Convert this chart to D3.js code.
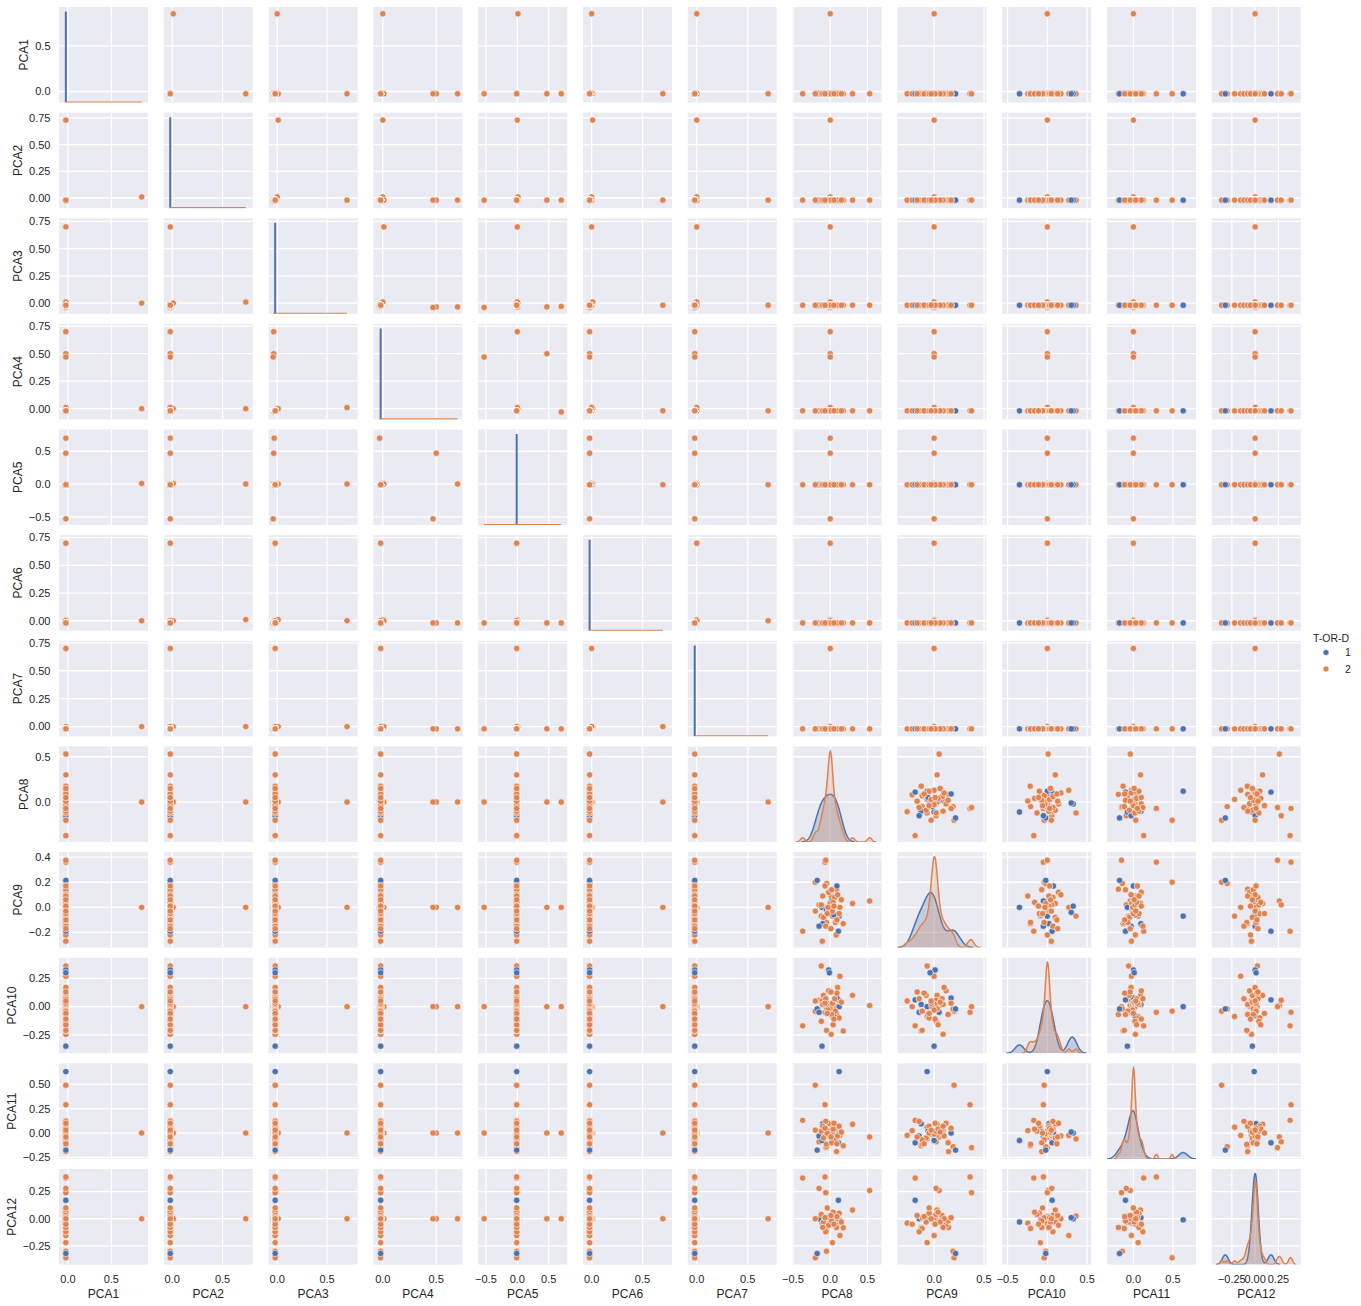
<!DOCTYPE html>
<html><head><meta charset="utf-8">
<script src="https://cdn.jsdelivr.net/npm/d3@7"></script>
<style>
body{margin:0;background:#fff}
text{font-family:"Liberation Sans",Arial,sans-serif;fill:#262626}
</style>
</head><body>
<svg id="chart" width="1361" height="1306"></svg>
<script>
// ---------------- DATA ----------------
const variables = ["PCA1","PCA2","PCA3","PCA4","PCA5","PCA6","PCA7","PCA8","PCA9","PCA10","PCA11","PCA12"];
const hueLevels = ["1","2"];
// point order: 9 special outliers, 17 orange outliers, 12 blue, 26 orange core
const hue = ["2","2","2","2","2","2","2","2","2",
 "2","2","2","2","2","2","2","2","2","2","2","2","2","2","2","2","2",
 "1","1","1","1","1","1","1","1","1","1","1","1",
 "2","2","2","2","2","2","2","2","2","2","2","2","2","2","2","2","2","2","2","2","2","2","2","2","2","2"];
const PCA1 = [0.85,-0.025,-0.025,-0.025,-0.025,-0.025,-0.025,-0.025,-0.025,
 -0.025,-0.025,-0.025,-0.025,-0.025,-0.025,-0.025,-0.025,-0.025,-0.025,-0.025,-0.025,-0.025,-0.025,-0.025,-0.025,-0.025,
 -0.025,-0.025,-0.025,-0.025,-0.025,-0.025,-0.025,-0.025,-0.025,-0.025,-0.025,-0.025,
 -0.025,-0.025,-0.025,-0.025,-0.025,-0.025,-0.025,-0.025,-0.025,-0.025,-0.025,-0.025,-0.025,-0.025,-0.025,-0.025,-0.025,-0.025,-0.025,-0.025,-0.025,-0.025,-0.025,-0.025,-0.025,-0.025];
const PCA2 = [0.01,0.73,-0.02,-0.02,-0.02,-0.02,-0.02,-0.02,-0.02,
 -0.02,-0.02,-0.02,-0.02,-0.02,-0.02,-0.02,-0.02,-0.02,-0.02,-0.02,-0.02,-0.02,-0.02,-0.02,-0.02,-0.02,
 -0.02,-0.02,-0.02,-0.02,-0.02,-0.02,-0.02,-0.02,-0.02,-0.02,-0.02,-0.02,
 -0.02,-0.02,-0.02,-0.02,-0.02,-0.02,-0.02,-0.02,-0.02,-0.02,-0.02,-0.02,-0.02,-0.02,-0.02,-0.02,-0.02,-0.02,-0.02,-0.02,-0.02,-0.02,-0.02,-0.02,-0.02,-0.02];
const PCA3 = [0.00,0.01,0.70,-0.035,-0.035,-0.04,-0.03,-0.02,-0.02,
 -0.02,-0.02,-0.02,-0.02,-0.02,-0.02,-0.02,-0.02,-0.02,-0.02,-0.02,-0.02,-0.02,-0.02,-0.02,-0.02,-0.02,
 -0.02,-0.02,-0.02,-0.02,-0.02,-0.02,-0.02,-0.02,-0.02,-0.02,-0.02,-0.02,
 -0.02,-0.02,-0.02,-0.02,-0.02,-0.02,-0.02,-0.02,-0.02,-0.02,-0.02,-0.02,-0.02,-0.02,-0.02,-0.02,-0.02,-0.02,-0.02,-0.02,-0.02,-0.02,-0.02,-0.02,-0.02,-0.02];
const PCA4 = [0.00,0.00,0.01,0.70,0.50,0.47,-0.03,-0.02,-0.02,
 -0.02,-0.02,-0.02,-0.02,-0.02,-0.02,-0.02,-0.02,-0.02,-0.02,-0.02,-0.02,-0.02,-0.02,-0.02,-0.02,-0.02,
 -0.02,-0.02,-0.02,-0.02,-0.02,-0.02,-0.02,-0.02,-0.02,-0.02,-0.02,-0.02,
 -0.02,-0.02,-0.02,-0.02,-0.02,-0.02,-0.02,-0.02,-0.02,-0.02,-0.02,-0.02,-0.02,-0.02,-0.02,-0.02,-0.02,-0.02,-0.02,-0.02,-0.02,-0.02,-0.02,-0.02,-0.02,-0.02];
const PCA5 = [0.01,0.00,0.00,0.00,0.47,-0.53,0.70,-0.01,-0.01,
 -0.01,-0.01,-0.01,-0.01,-0.01,-0.01,-0.01,-0.01,-0.01,-0.01,-0.01,-0.01,-0.01,-0.01,-0.01,-0.01,-0.01,
 -0.01,-0.01,-0.01,-0.01,-0.01,-0.01,-0.01,-0.01,-0.01,-0.01,-0.01,-0.01,
 -0.01,-0.01,-0.01,-0.01,-0.01,-0.01,-0.01,-0.01,-0.01,-0.01,-0.01,-0.01,-0.01,-0.01,-0.01,-0.01,-0.01,-0.01,-0.01,-0.01,-0.01,-0.01,-0.01,-0.01,-0.01,-0.01];
const PCA6 = [0.00,0.01,0.00,-0.02,-0.02,-0.02,-0.02,0.70,0.00,
 -0.02,-0.02,-0.02,-0.02,-0.02,-0.02,-0.02,-0.02,-0.02,-0.02,-0.02,-0.02,-0.02,-0.02,-0.02,-0.02,-0.02,
 -0.02,-0.02,-0.02,-0.02,-0.02,-0.02,-0.02,-0.02,-0.02,-0.02,-0.02,-0.02,
 -0.02,-0.02,-0.02,-0.02,-0.02,-0.02,-0.02,-0.02,-0.02,-0.02,-0.02,-0.02,-0.02,-0.02,-0.02,-0.02,-0.02,-0.02,-0.02,-0.02,-0.02,-0.02,-0.02,-0.02,-0.02,-0.02];
const PCA7 = [0.00,0.00,0.00,-0.02,-0.02,-0.02,-0.02,0.00,0.70,
 -0.02,-0.02,-0.02,-0.02,-0.02,-0.02,-0.02,-0.02,-0.02,-0.02,-0.02,-0.02,-0.02,-0.02,-0.02,-0.02,-0.02,
 -0.02,-0.02,-0.02,-0.02,-0.02,-0.02,-0.02,-0.02,-0.02,-0.02,-0.02,-0.02,
 -0.02,-0.02,-0.02,-0.02,-0.02,-0.02,-0.02,-0.02,-0.02,-0.02,-0.02,-0.02,-0.02,-0.02,-0.02,-0.02,-0.02,-0.02,-0.02,-0.02,-0.02,-0.02,-0.02,-0.02,-0.02,-0.02];
const PCA8 = [0,0,0,0,0,0,0,0,0,
 -0.37,-0.07,0.53,0.30,-0.20,-0.12,-0.06,-0.15,0.03,-0.05,0.13,0.013,0.175,-0.05,-0.107,0.08,0.085,
 0.12,0.11,-0.175,-0.02,-0.01,-0.11,0.09,-0.10,-0.15,0.02,-0.05,0.05,
 0.00,0.01,-0.01,0.02,-0.02,0.00,0.03,-0.03,0.06,-0.09,0.12,-0.02,0.07,-0.12,0.02,0.10,-0.06,0.04,-0.10,0.09,-0.04,0.15,0.01,-0.07,0.05,-0.20];
const PCA9 = [0,0,0,0,0,0,0,0,0,
 -0.19,0.36,0.05,0.03,0.20,-0.07,0.375,0.02,-0.07,0.19,0.00,0.09,-0.13,-0.12,-0.27,-0.22,0.145,
 -0.07,-0.19,0.215,0.01,-0.04,0.00,0.17,-0.13,-0.15,0.05,-0.02,-0.06,
 0.00,-0.01,0.02,0.01,-0.02,0.03,-0.03,0.00,0.08,-0.08,-0.05,0.12,-0.12,0.02,0.14,0.10,-0.15,0.04,0.09,-0.10,-0.05,0.06,-0.17,0.17,0.01,-0.03];
const PCA10 = [0,0,0,0,0,0,0,0,0,
 -0.17,-0.05,0.01,0.10,-0.04,0.36,0.00,0.056,-0.087,-0.02,0.27,-0.245,-0.215,-0.21,0.05,0.00,-0.07,
 0.00,0.06,-0.02,0.325,0.30,-0.35,0.076,0.02,-0.05,-0.05,0.03,-0.08,
 0.00,0.01,-0.01,0.02,0.00,-0.02,0.03,-0.03,0.07,0.10,-0.10,0.14,-0.04,-0.13,-0.07,0.17,0.07,-0.16,0.02,0.12,-0.06,0.04,0.13,0.03,-0.11,0.05];
const PCA11 = [0,0,0,0,0,0,0,0,0,
 0.13,0.29,-0.04,0.09,0.49,-0.06,-0.15,-0.09,0.06,-0.14,-0.025,0.025,-0.13,-0.115,-0.025,0.025,-0.19,
 0.63,-0.10,-0.175,0.00,0.01,-0.076,0.00,0.095,-0.03,0.00,-0.01,0.02,
 0.00,0.00,0.01,-0.01,0.02,-0.02,0.01,-0.01,0.04,-0.05,0.07,0.10,-0.07,0.02,-0.10,-0.03,0.12,0.04,0.07,-0.11,0.00,0.01,-0.04,0.05,0.10,0.03];
const PCA12 = [0,0,0,0,0,0,0,0,0,
 0.375,0.385,0.26,0.08,-0.36,0.025,0.24,0.28,-0.22,-0.30,-0.155,-0.04,-0.083,-0.09,-0.04,-0.05,-0.08,
 -0.01,0.17,-0.32,0.00,0.01,-0.03,0.01,0.01,0.00,0.00,0.01,-0.01,
 0.00,-0.01,0.00,0.01,0.02,-0.02,0.00,0.01,0.03,-0.03,0.05,-0.06,0.01,0.04,-0.02,0.00,-0.12,0.06,-0.08,0.02,0.10,-0.03,0.03,0.01,-0.05,0.00];
const columns = [PCA1,PCA2,PCA3,PCA4,PCA5,PCA6,PCA7,PCA8,PCA9,PCA10,PCA11,PCA12];

// axis limits and ticks
const xDomain = [[-0.104,0.923],[-0.084,0.80],[-0.086,0.806],[-0.088,0.745],[-0.624,0.795],[-0.085,0.79],
                 [-0.088,0.785],[-0.505,0.69],[-0.368,0.524],[-0.567,0.551],[-0.334,0.792],[-0.465,0.49]];
const yDomain = [[-0.12,0.924],[-0.095,0.80],[-0.098,0.779],[-0.098,0.771],[-0.625,0.831],[-0.09,0.772],
                 [-0.087,0.768],[-0.44,0.613],[-0.321,0.44],[-0.413,0.433],[-0.265,0.714],[-0.422,0.458]];
const xTicks = [[0,0.5],[0,0.5],[0,0.5],[0,0.5],[-0.5,0,0.5],[0,0.5],[0,0.5],[-0.5,0,0.5],[0,0.5],[-0.5,0,0.5],[0,0.5],[-0.25,0,0.25]];
const xTickLabels = [["0.0","0.5"],["0.0","0.5"],["0.0","0.5"],["0.0","0.5"],["\u22120.5","0.0","0.5"],["0.0","0.5"],["0.0","0.5"],
                     ["\u22120.5","0.0","0.5"],["0.0","0.5"],["\u22120.5","0.0","0.5"],["0.0","0.5"],["\u22120.25","0.00","0.25"]];
const yTicks = [[0,0.5],[0,0.25,0.5,0.75],[0,0.25,0.5,0.75],[0,0.25,0.5,0.75],[-0.5,0,0.5],[0,0.25,0.5,0.75],[0,0.25,0.5,0.75],
                [0,0.5],[-0.2,0,0.2,0.4],[-0.25,0,0.25],[-0.25,0,0.25,0.5],[-0.25,0,0.25]];
const yTickLabels = [["0.0","0.5"],["0.00","0.25","0.50","0.75"],["0.00","0.25","0.50","0.75"],["0.00","0.25","0.50","0.75"],
                     ["\u22120.5","0.0","0.5"],["0.00","0.25","0.50","0.75"],["0.00","0.25","0.50","0.75"],["0.0","0.5"],
                     ["\u22120.2","0.0","0.2","0.4"],["\u22120.25","0.00","0.25"],["\u22120.25","0.00","0.25","0.50"],["\u22120.25","0.00","0.25"]];
// KDE kernel bandwidths per variable (hue 1, hue 2)
const bandwidth1 = [0.01,0.01,0.01,0.01,0.01,0.01,0.01,0.07,0.06,0.055,0.055,0.032];
const bandwidth2 = [0.05,0.05,0.05,0.05,0.05,0.05,0.05,0.03,0.03,0.025,0.018,0.02];
const legendTitle = "T-OR-D";

// ---------------- LAYOUT / STYLE ----------------
const colors = {"1":"#4C72B0","2":"#DD8452"};
const left0 = 59, colPitch = 104.8, W = 89;
const top0 = 7, rowPitch = 105.64, H = 95.5;
const n = variables.length;

const svg = d3.select("#chart");
const defs = svg.append("defs");

function kde(values, bw, lo, hi, m) {
  return d3.range(m).map(i => {
    const x = lo + (hi - lo) * i / (m - 1);
    const d = d3.mean(values, v => Math.exp(-0.5 * ((x - v) / bw) ** 2)) / (bw * Math.sqrt(2 * Math.PI));
    return [x, d];
  });
}

for (let r = 0; r < n; r++) {
  for (let c = 0; c < n; c++) {
    const x0 = left0 + c * colPitch, y0 = top0 + r * rowPitch;
    const xs = d3.scaleLinear().domain(xDomain[c]).range([x0, x0 + W]);
    const ys = d3.scaleLinear().domain(yDomain[r]).range([y0 + H, y0]);
    const g = svg.append("g");
    const id = `clip-${r}-${c}`;
    defs.append("clipPath").attr("id", id).append("rect")
      .attr("x", x0).attr("y", y0).attr("width", W).attr("height", H);
    g.append("rect").attr("x", x0).attr("y", y0).attr("width", W).attr("height", H).attr("fill", "#EAEAF2");
    const grid = g.append("g").attr("clip-path", `url(#${id})`);
    grid.selectAll("line.vx").data(xTicks[c]).join("line")
      .attr("x1", d => xs(d)).attr("x2", d => xs(d)).attr("y1", y0).attr("y2", y0 + H)
      .attr("stroke", "#fff").attr("stroke-width", 1.3);
    grid.selectAll("line.hy").data(yTicks[r]).join("line")
      .attr("y1", d => ys(d)).attr("y2", d => ys(d)).attr("x1", x0).attr("x2", x0 + W)
      .attr("stroke", "#fff").attr("stroke-width", 1.3);
    const content = g.append("g").attr("clip-path", `url(#${id})`);

    if (r === c) {
      const groups = hueLevels.map(h => columns[c].filter((v, i) => hue[i] === h));
      const bws = [bandwidth1[c], bandwidth2[c]];
      const degenerate = groups.map(vals => d3.deviation(vals) < 1e-4);
      if (degenerate.some(d => d)) {
        const yTop = y0 + H * 0.05 / 1.05;
        groups.forEach((vals, k) => {
          const col = colors[hueLevels[k]];
          if (degenerate[k]) {
            const v = d3.mean(vals);
            content.append("line").attr("x1", xs(v)).attr("x2", xs(v)).attr("y1", y0 + H).attr("y2", yTop)
              .attr("stroke", col).attr("stroke-width", 2);
          }
        });
        groups.forEach((vals, k) => {
          const col = colors[hueLevels[k]];
          if (!degenerate[k]) {
            content.append("line").attr("x1", xs(d3.min(vals))).attr("x2", xs(d3.max(vals)))
              .attr("y1", y0 + H - 0.3).attr("y2", y0 + H - 0.3)
              .attr("stroke", col).attr("stroke-width", 1.5);
          }
        });
      } else {
        const curves = groups.map((vals, k) =>
          kde(vals, bws[k], d3.min(vals) - 3 * bws[k], d3.max(vals) + 3 * bws[k], 200));
        const maxD = d3.max(curves, cv => d3.max(cv, p => p[1]));
        const yk = d3.scaleLinear().domain([0, maxD * 1.05]).range([y0 + H, y0]);
        const area = d3.area().x(p => xs(p[0])).y0(y0 + H).y1(p => yk(p[1]));
        const line = d3.line().x(p => xs(p[0])).y(p => yk(p[1]));
        curves.forEach((cv, k) => {
          const col = colors[hueLevels[k]];
          content.append("path").attr("d", area(cv)).attr("fill", col).attr("fill-opacity", 0.25);
          content.append("path").attr("d", line(cv)).attr("fill", "none").attr("stroke", col).attr("stroke-width", 1.5);
        });
      }
    } else {
      const xv = columns[c], yv = columns[r];
      content.selectAll("circle").data(d3.range(xv.length)).join("circle")
        .attr("cx", i => xs(xv[i])).attr("cy", i => ys(yv[i])).attr("r", 3.2)
        .attr("fill", i => colors[hue[i]]).attr("stroke", "#fff").attr("stroke-width", 0.6);
    }

    // axes text
    if (c === 0) {
      const tl = g.append("g");
      const texts = tl.selectAll("text").data(yTicks[r]).join("text")
        .attr("x", x0 - 8.5).attr("y", d => ys(d)).attr("dy", "0.35em")
        .attr("text-anchor", "end").attr("font-size", 11)
        .text((d, i) => yTickLabels[r][i]);
      let maxW = 0;
      texts.each(function () { maxW = Math.max(maxW, this.getComputedTextLength()); });
      const lx = x0 - 8.5 - maxW - 11;
      g.append("text").attr("transform", `translate(${lx},${y0 + H / 2}) rotate(-90)`)
        .attr("dy", "0.35em").attr("text-anchor", "middle").attr("font-size", 12).text(variables[r]);
    }
    if (r === n - 1) {
      g.append("g").selectAll("text").data(xTicks[c]).join("text")
        .attr("x", d => xs(d)).attr("y", y0 + H + 18.5)
        .attr("text-anchor", "middle").attr("font-size", 11)
        .text((d, i) => xTickLabels[c][i]);
      g.append("text").attr("x", x0 + W / 2).attr("y", y0 + H + 33)
        .attr("text-anchor", "middle").attr("font-size", 12).text(variables[c]);
    }
  }
}

// legend
const lg = svg.append("g");
lg.append("text").attr("x", 1331).attr("y", 642).attr("text-anchor", "middle").attr("font-size", 10.5).text(legendTitle);
hueLevels.forEach((h, k) => {
  const yy = 652.5 + k * 16.5;
  lg.append("circle").attr("cx", 1326).attr("cy", yy).attr("r", 3).attr("fill", colors[h]).attr("stroke", "#fff").attr("stroke-width", 0.6);
  lg.append("text").attr("x", 1345).attr("y", yy).attr("dy", "0.35em").attr("font-size", 10.5).text(h);
});
</script>
</body></html>
